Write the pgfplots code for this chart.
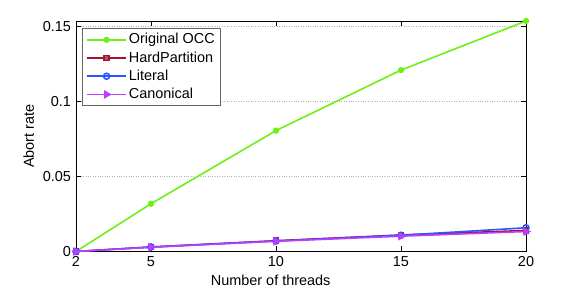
\documentclass[border=0pt]{standalone}
\usepackage{pgfplots}
\pgfplotsset{compat=1.18}
\usepackage{fontspec}
\setmainfont{Liberation Sans}
\definecolor{cgreen}{RGB}{110,240,20}
\definecolor{cred}{RGB}{165,20,45}
\definecolor{cblue}{RGB}{45,85,255}
\definecolor{cmag}{RGB}{190,60,255}
\begin{document}
\fontsize{14.5}{17}\selectfont
\begin{tikzpicture}
\begin{axis}[
  scale only axis, width=450bp, height=230.5bp,
  xmin=2, xmax=20, ymin=0, ymax=0.1535,
  xtick={2,5,10,15,20},
  ytick={0,0.05,0.1,0.15},
  yticklabels={0,0.05,0.1,0.15},
  /pgf/number format/assume math mode=true,
  tick align=inside, major tick length=5bp,
  tick style={black, line width=0.5pt},
  ymajorgrids, major grid style={gray!60, dotted, line width=0.8pt},
  axis line style={black, line width=0.7pt},
  xlabel={Number of threads}, ylabel={Abort rate},
  xlabel style={at={(ticklabel cs:0.4326)}, anchor=north, yshift=2bp},
  ylabel style={yshift=-1bp},
  every tick label/.append style={font=\fontsize{14.5}{17}\selectfont},
  label style={font=\fontsize{14.5}{17}\selectfont},
  legend style={at={(0.0127,0.97)}, anchor=north west, draw=gray!80!black, very thick,
    font=\fontsize{14.5}{17}\selectfont, row sep=1.6pt, inner xsep=4pt, inner ysep=3pt},
  legend cell align=left,
  legend image code/.code={
    \draw[line width=1.6pt, mark repeat=2,mark phase=2] plot coordinates {(2bp,0bp) (21.5bp,0bp) (41bp,0bp)};},
  every axis plot/.append style={line width=1.6pt},
]
\addplot[cgreen, mark=*, mark size=2.3pt, mark options={solid}] coordinates {(2,0) (5,0.0318) (10,0.0805) (15,0.1208) (20,0.1535)};
\addlegendentry{Original OCC}
\addplot[cred, mark=square*, mark size=2.5pt, mark options={fill=cred!75!white}] coordinates {(2,0) (5,0.0030) (10,0.0072) (15,0.0110) (20,0.0140)};
\addlegendentry{HardPartition}
\addplot[cblue, mark=o, mark size=3pt] coordinates {(2,0) (5,0.0030) (10,0.0070) (15,0.0108) (20,0.0158)};
\addlegendentry{Literal}
\addplot[cmag, mark=triangle*, mark size=3.5pt, mark options={rotate=-90}] coordinates {(2,0) (5,0.0028) (10,0.0068) (15,0.0102) (20,0.0133)};
\addlegendentry{Canonical}
\end{axis}
\pgfresetboundingbox
\path ([shift={(-76bp,-40.5bp)}]current axis.south west) rectangle ([shift={(55bp,21bp)}]current axis.north east);
\end{tikzpicture}
\end{document}
